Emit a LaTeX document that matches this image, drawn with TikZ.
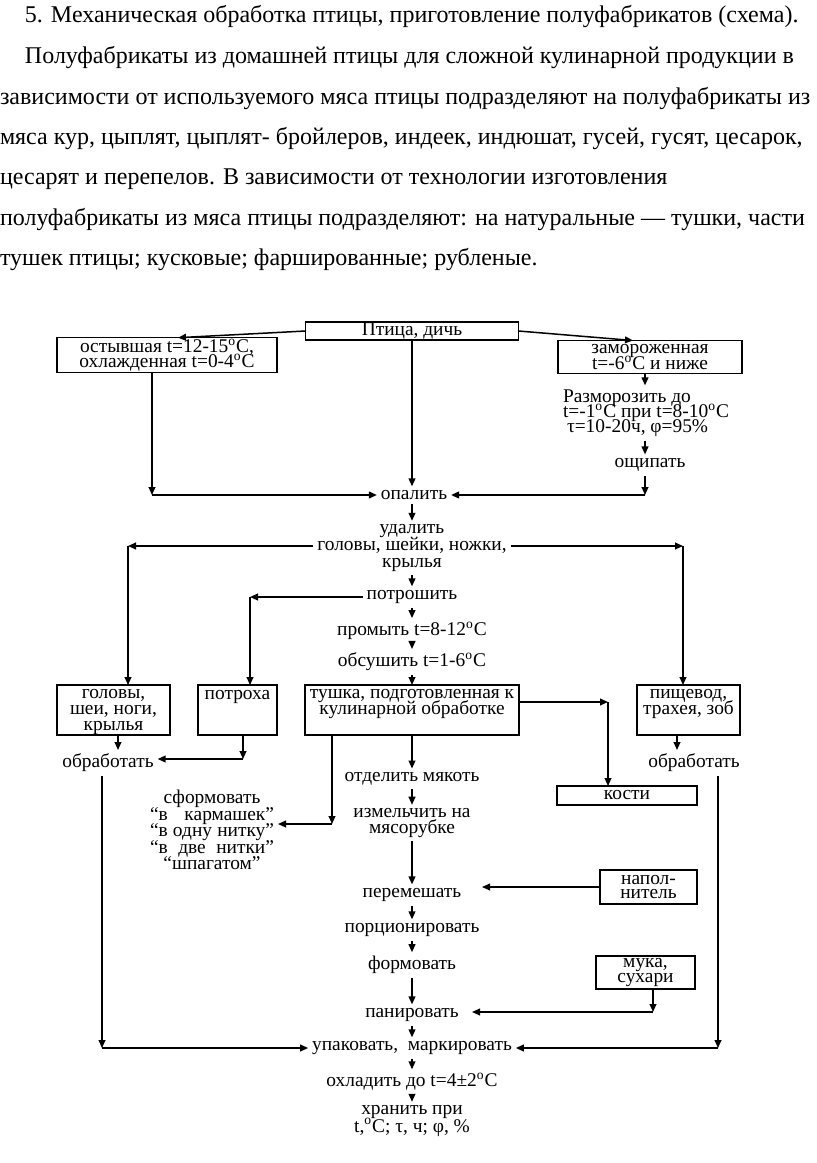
\documentclass[tikz,border=0pt]{standalone}
\usepackage{fontspec}
\setmainfont{Liberation Serif}
\usetikzlibrary{arrows.meta,calc}
\newcommand{\dg}{\textsuperscript{o}}
\newcommand{\jline}[1]{\hbox to 62pt{#1}}
\newcommand{\dfont}[1]{\fontsize{9.7}{#1}\selectfont\lineskiplimit=-20pt\relax}
\begin{document}
\begin{tikzpicture}[x=0.5pt,y=-0.5pt,
  every node/.style={inner sep=0pt, outer sep=0pt},
  txt/.style={font=\dfont{8pt}, align=center, inner sep=2pt},
  ls/.style={font=\dfont{#1}},
  box/.style={draw, line width=0.75pt, inner xsep=2pt, inner ysep=0.5pt},
  arr/.style={line width=0.75pt, -{Triangle[length=4pt,width=3.4pt]}},
  para/.style={font=\fontsize{12}{14}\selectfont, anchor=base west, inner sep=0pt}]
\fill[white] (0,0) rectangle (816,1163);
\useasboundingbox (0,0) rectangle (816,1163);

% paragraph
\node[para] (p1) at (25,22) {5. Механическая обработка птицы, приготовление полуфабрикатов (схема).};
\node[para] (p2) at (25,63) {Полуфабрикаты из домашней птицы для сложной кулинарной продукции в};
\node[para] (p3) at (0,104) {зависимости от используемого мяса птицы подразделяют на полуфабрикаты из};
\node[para] (p4) at (0,144) {мяса кур, цыплят, цыплят- бройлеров, индеек, индюшат, гусей, гусят, цесарок,};
\node[para] (p5) at (0,184) {цесарят и перепелов. В зависимости от технологии изготовления};
\node[para] (p6) at (0,225) {полуфабрикаты из мяса птицы подразделяют: на натуральные — тушки, части};
\node[para] (p7) at (0,265) {тушек птицы; кусковые; фаршированные; рубленые.};

% nodes
\node[txt,box,minimum width=106.5pt,minimum height=9pt] (ptica) at (412,331) {Птица, дичь};
\node[txt,ls=7.6pt,box,minimum width=110pt,minimum height=17pt] (ostyv) at (167,355) {остывшая t=12-15\dg C,\\охлажденная t=0-4\dg C};
\node[txt,ls=8.4pt,box,minimum width=92pt,minimum height=16.5pt] (zamor) at (650,357) {замороженная\\t=-6\dg C и ниже};
\node[txt,ls=7.6pt,anchor=west,align=left] (razm) at (559,413) {Разморозить до\\t=-1\dg C при t=8-10\dg C\\\hspace{2pt}τ=10-20ч, φ=95\%};
\node[txt] (oship) at (650,465) {ощипать};
\node[txt] (opal) at (414,495) {опалить};
\node[txt,ls=8.3pt] (udal) at (412,548) {удалить\\головы, шейки, ножки,\\крылья};
\node[txt] (potr) at (412,597) {потрошить};
\node[txt] (prom) at (412,631) {промыть t=8-12\dg C};
\node[txt] (obs) at (412,662) {обсушить t=1-6\dg C};

\node[box,minimum width=56.5pt,minimum height=25pt] (golovy) at (113.5,710) {};
\node[txt,ls=8pt] (golovyT) at (113.5,712) {головы,\\шеи, ноги,\\крылья};
\node[box,minimum width=39.5pt,minimum height=25pt] (potroha) at (237.5,710) {};
\node[txt] (potrohaT) at (237.5,697) {потроха};
\node[box,minimum width=107pt,minimum height=25pt] (tushka) at (412,710) {};
\node[txt,ls=7.6pt] (tushkaT) at (412,704) {тушка, подготовленная к\\кулинарной обработке};
\node[box,minimum width=51.5pt,minimum height=25pt] (pish) at (688.5,710) {};
\node[txt,ls=8pt] (pishT) at (688.5,704) {пищевод,\\трахея, зоб};

\node[txt] (obr1) at (108,763) {обработать};
\node[txt,ls=8.25pt] (sform) at (212,830) {сформовать\\\jline{“в\hfill кармашек”}\\\jline{“в\hfill одну\hfill нитку”}\\\jline{“в\hfill две\hfill нитки”}\\“шпагатом”};
\node[txt] (otdel) at (412,779) {отделить мякоть};
\node[txt,ls=7.6pt] (izm) at (412,823) {измельчить на\\мясорубке};
\node[txt,box,minimum width=70pt,minimum height=9.5pt] (kosti) at (627,795.5) {кости};
\node[txt] (perem) at (412,895) {перемешать};
\node[txt,ls=7.3pt,box,minimum width=48.5pt,minimum height=17pt] (napol) at (648.5,887) {напол-\\нитель};
\node[txt] (porc) at (412,930) {порционировать};
\node[txt] (form) at (412,965) {формовать};
\node[txt,ls=7.3pt,box,minimum width=49.5pt,minimum height=16.5pt] (muka) at (645.5,972.5) {мука,\\сухари};
\node[txt] (pan) at (412,1015) {панировать};
\node[txt] (upak) at (412,1048) {упаковать,\ \ маркировать};
\node[txt] (ohl) at (412,1082) {охладить до t=4±2\dg C};
\node[txt,ls=8.6pt] (hran) at (412,1121) {хранить при\\t,\dg C; τ, ч; φ, \%};
\node[txt] (obr2) at (694,763) {обработать};

% coordinates
\coordinate (cL) at (152,495);
\coordinate (xR) at (645,0);
\coordinate (cR) at (645,495);
\coordinate (cU1) at (128,546);
\coordinate (cU2) at (683,546);
\coordinate (cP) at (250,597);
\coordinate (xG) at (118,0);
\coordinate (cQ) at (243,759);
\coordinate (cO) at (102,1048);
\coordinate (cT) at (332,824);
\coordinate (cM) at (653,1012);
\coordinate (xP) at (677,0);
\coordinate (cO2) at (718,1048);
\coordinate (cK) at (608,702);

% connectors
\draw[arr] (ptica.west) -- ($(ostyv.north)+(11,0)$);
\draw[arr] (ptica.east) -- ($(zamor.north)+(-17,0)$);
\draw[arr] (ptica.south) -- (ptica.south |- opal.north);
\draw[arr] (ostyv.south -| cL) -- (cL);
\draw[arr] (cL) -- (opal.west);
\draw[arr] (zamor.south -| xR) -- (razm.north -| xR);
\draw[arr] (razm.south -| xR) -- (oship.north -| xR);
\draw[arr] (oship.south -| cR) -- (cR);
\draw[arr] (cR) -- (opal.east);
\draw[arr] (opal.south -| udal.north) -- (udal.north);
\draw[arr] (udal.west |- cU1) -- (cU1);
\draw[arr] (cU1) -- (cU1 |- golovy.north);
\draw[arr] (udal.east |- cU2) -- (cU2);
\draw[arr] (cU2) -- (cU2 |- pish.north);
\draw[arr] (udal.south) -- (potr.north);
\draw[arr] (potr.west) -- (cP);
\draw[arr] (cP) -- (cP |- potroha.north);
\draw[arr] (potr.south) -- (prom.north);
\draw[arr] (prom.south) -- (obs.north);
\draw[arr] (obs.south) -- (tushka.north);
\draw[arr] (golovy.south -| xG) -- (obr1.north -| xG);
\draw[arr] (potroha.south -| cQ) -- (cQ);
\draw[arr] (cQ) -- (cQ -| obr1.east);
\draw[arr] (obr1.south -| cO) -- (cO);
\draw[arr] (cO) -- (upak.west);
\draw[arr] (tushka.south -| cT) -- (cT);
\draw[arr] (cT) -- (cT -| sform.east);
\draw[arr] (tushka.south) -- (otdel.north);
\draw[arr] (otdel.south) -- (izm.north);
\draw[arr] (izm.south) -- (perem.north);
\draw[arr] (napol.west) -- ++(-118,0);
\draw[arr] (perem.south) -- (porc.north);
\draw[arr] (porc.south) -- (form.north);
\draw[arr] (form.south) -- (pan.north);
\draw[arr] (muka.south -| cM) -- (cM);
\draw[arr] (cM) -- ++(-181,0);
\draw[arr] (pan.south) -- (upak.north);
\draw[arr] (pish.south -| xP) -- (obr2.north -| xP);
\draw[arr] (obr2.south -| cO2) -- (cO2);
\draw[arr] (cO2) -- (upak.east);
\draw[arr] (tushka.east |- cK) -- (cK);
\draw[arr] (cK) -- (cK |- kosti.north);
\draw[arr] (upak.south) -- (ohl.north);
\draw[arr] (ohl.south) -- (hran.north);
\end{tikzpicture}
\end{document}
